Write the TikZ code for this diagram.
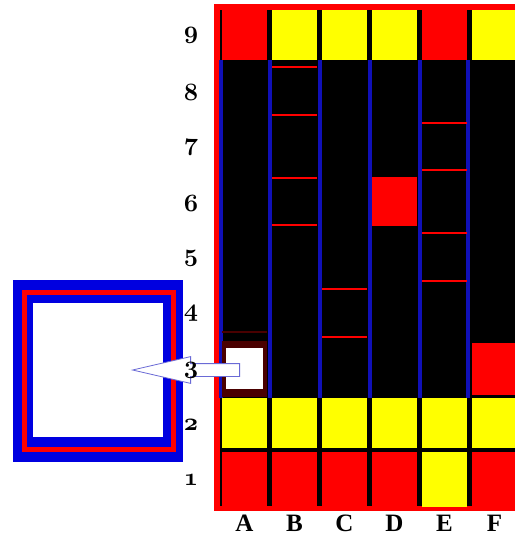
\documentclass[tikz,border=0pt]{standalone}
\usepackage{fontspec}
\setmainfont{Liberation Serif}
\usetikzlibrary{shapes.arrows}
\definecolor{gridred}{HTML}{FF0000}
\definecolor{gridyellow}{HTML}{FFFF00}
\definecolor{sepblue}{HTML}{1010B8}
\definecolor{boxblue}{HTML}{0000E0}
\definecolor{arrowblue}{HTML}{6A6AD6}
\definecolor{maroon}{HTML}{4A0000}
\newcommand{\rownum}[1]{{\fontencoding{OML}\fontfamily{cmm}\fontseries{b}\fontshape{it}\selectfont #1}}

\begin{document}
\begin{tikzpicture}[
  x=1pt, y=-1pt,
  cell/.style={minimum width=45pt, minimum height=50pt, inner sep=0pt},
  redcell/.style={cell, fill=gridred},
  yelcell/.style={cell, fill=gridyellow},
  rung/.style={fill=gridred, minimum width=45pt, minimum height=2pt, inner sep=0pt},
  sep/.style={draw=sepblue, line width=4pt},
  numlab/.style={inner sep=0pt, font=\fontsize{23}{23}\selectfont},
  collab/.style={inner sep=0pt, font=\fontsize{25}{25}\selectfont\bfseries},
  pointer/.style={single arrow, draw=arrowblue, fill=white, line width=0.8pt, inner sep=6pt,
    minimum height=107pt, minimum width=26pt, single arrow head extend=7pt,
    single arrow tip angle=26, shape border rotate=180}
]
\useasboundingbox (0,0) rectangle (514,540);

% frame of the board
\fill[gridred] (214,4) rectangle (520,511);
\fill[black] (220,10) rectangle (520,506);
\draw[sep] (220.5,60) -- (220.5,398);
\draw[sep] (269.5,60) -- (269.5,398);
\draw[sep] (319.5,60) -- (319.5,398);
\draw[sep] (369.5,60) -- (369.5,398);
\draw[sep] (419.5,60) -- (419.5,398);
\draw[sep] (467.5,60) -- (467.5,398);

% row 9
\node[redcell] (a9) at (244.5,35) {};
\node[yelcell] (b9) at (294.5,35) {};
\node[yelcell] (c9) at (344.5,35) {};
\node[yelcell] (d9) at (394.5,35) {};
\node[redcell] (e9) at (444.5,35) {};
\node[yelcell] (f9) at (494.5,35) {};

% row 2
\node[yelcell] (a2) at (244.5,423) {};
\node[yelcell] (b2) at (294.5,423) {};
\node[yelcell] (c2) at (344.5,423) {};
\node[yelcell] (d2) at (394.5,423) {};
\node[yelcell] (e2) at (444.5,423) {};
\node[yelcell] (f2) at (494.5,423) {};

% row 1
\node[redcell, minimum height=55pt] (a1) at (244.5,479.5) {};
\node[redcell, minimum height=55pt] (b1) at (294.5,479.5) {};
\node[redcell, minimum height=55pt] (c1) at (344.5,479.5) {};
\node[redcell, minimum height=55pt] (d1) at (394.5,479.5) {};
\node[yelcell, minimum height=55pt] (e1) at (444.5,479.5) {};
\node[redcell, minimum height=55pt] (f1) at (494.5,479.5) {};

% pieces in the middle
\node[redcell, minimum height=49pt] (d6) at (394.5,201.5) {};
\node[redcell, minimum height=52pt] (f3) at (494.5,369) {};
\draw[maroon, line width=1.5pt] (222,332) -- (267,332);
\fill[maroon] (222,341) rectangle (267,397);
\node[cell, fill=white, minimum width=37pt, minimum height=41pt] (a3) at (244.5,368.5) {};

% rungs
\node[rung] (b8a) at (294.5,67) {};
\node[rung] (b8b) at (294.5,115) {};
\node[rung] (b7) at (294.5,178) {};
\node[rung] (b6) at (294.5,225) {};
\node[rung] (c4a) at (344.5,289) {};
\node[rung] (c4b) at (344.5,337) {};
\node[rung] (e8) at (444.5,123) {};
\node[rung] (e7) at (444.5,170) {};
\node[rung] (e6) at (444.5,233) {};
\node[rung] (e5) at (444.5,281) {};

% zoomed piece
\fill[boxblue] (13,280) rectangle (183,462);
\draw[gridred, line width=4.5pt] (24.5,292.5) rectangle (173.5,449.5);
\node[cell, fill=white, minimum width=130pt, minimum height=134pt] (zoom) at (98,370) {};

\node[pointer, anchor=tail] (ptr) at (240,370) {};

% labels
\node[numlab] (r9) at (191,35) {\rownum{9}};
\node[numlab] (r8) at (191,92) {\rownum{8}};
\node[numlab] (r7) at (191,147) {\rownum{7}};
\node[numlab] (r6) at (191,203) {\rownum{6}};
\node[numlab] (r5) at (191,258) {\rownum{5}};
\node[numlab] (r4) at (191,313) {\rownum{4}};
\node[numlab] (r3) at (191,370) {\rownum{3}};
\node[numlab] (r2) at (191,425) {\rownum{2}};
\node[numlab] (r1) at (191,480) {\rownum{1}};

\node[collab] (ca) at (244.5,523) {A};
\node[collab] (cb) at (294.5,523) {B};
\node[collab] (cc) at (344.5,523) {C};
\node[collab] (cd) at (394.5,523) {D};
\node[collab] (ce) at (444.5,523) {E};
\node[collab] (cf) at (494.5,523) {F};
\end{tikzpicture}
\end{document}
